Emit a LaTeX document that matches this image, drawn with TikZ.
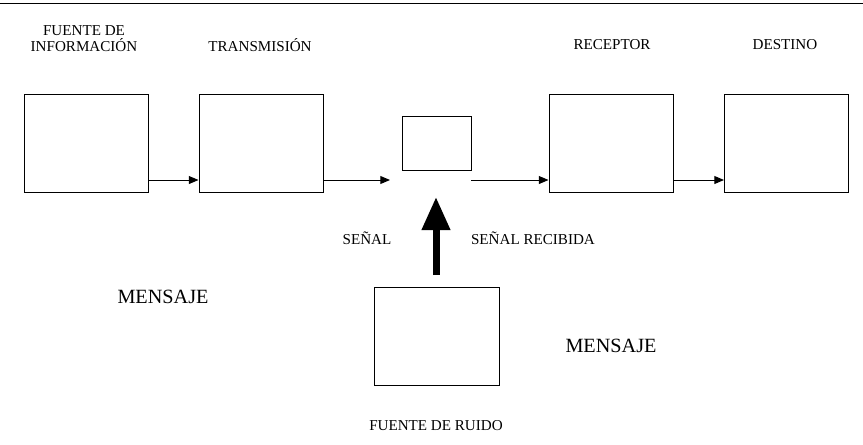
\documentclass[tikz,border=0pt]{standalone}
\usepackage{fontspec}
\setmainfont{Liberation Serif}
\usetikzlibrary{arrows.meta}
\begin{document}
\begin{tikzpicture}[x=0.02cm, y=-0.02cm,
        bloque/.style={draw, line width=0.55pt, minimum width=2.48cm, minimum height=1.96cm, inner sep=0pt},
        etiqueta/.style={font=\fontsize{8.6}{9.1}\selectfont, align=center, inner sep=0pt},
        rotulo/.style={font=\fontsize{11.5}{12}\selectfont, inner sep=0pt},
        flecha/.style={-{Triangle[length=5.5pt,width=4.5pt]}, line width=0.55pt}]
        \useasboundingbox (0,0) rectangle (863,444);
        % Top rule
        \draw[line width=0.8pt] (0,3.5) -- (863,3.5);

        % Blocks
        \node[bloque] (fuente) at (86,143) {};
        \node[bloque] (transmision) at (261,143) {};
        \node[bloque, minimum width=1.38cm, minimum height=1.08cm] (canal) at (436.5,143) {};
        \node[bloque] (receptor) at (611,143) {};
        \node[bloque] (destino) at (786.5,143) {};
        \node[bloque, minimum width=2.5cm] (ruido) at (436.5,336) {};

        % Titles
        \node[etiqueta] (tFuente) at (84,39) {FUENTE DE\\INFORMACIÓN};
        \node[etiqueta] (tTransmision) at (260,45) {TRANSMISIÓN};
        \node[etiqueta] (tReceptor) at (612,45) {RECEPTOR};
        \node[etiqueta] (tDestino) at (785,45) {DESTINO};
        \node[etiqueta] (tSenal) at (367,238) {SEÑAL};
        \node[etiqueta] (tRecibida) at (533,238) {SEÑAL RECIBIDA};
        \node[etiqueta] (tRuido) at (436,426) {FUENTE DE RUIDO};
        \node[rotulo] (mensajeA) at (163,297) {MENSAJE};
        \node[rotulo] (mensajeB) at (611,346) {MENSAJE};

        % Signal path
        \coordinate (salidaSenal) at (390,180);
        \coordinate (entradaSenal) at (471,180);
        \coordinate (baseRuido) at (436,275);
        \coordinate (puntaRuido) at (436,197);
        \draw[flecha] (fuente.east |- 0,180) -- (transmision.west |- 0,180);
        \draw[flecha] (transmision.east |- 0,180) -- (salidaSenal);
        \draw[flecha] (entradaSenal) -- (receptor.west |- 0,180);
        \draw[flecha] (receptor.east |- 0,180) -- (destino.west |- 0,180);

        % Noise
        \draw[line width=0.14cm, -{Triangle[length=0.66cm,width=0.54cm]}] (baseRuido) -- (puntaRuido);
    \end{tikzpicture}
\end{document}
